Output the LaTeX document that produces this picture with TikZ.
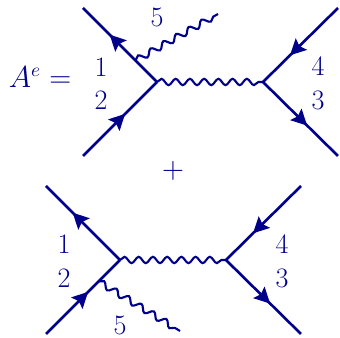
\documentclass[tikz,border=0pt]{standalone}
\usepackage{amsmath,amssymb}
\usetikzlibrary{arrows.meta, positioning, calc, decorations.markings, decorations.pathmorphing}
\definecolor{feynblue}{HTML}{00008B}
\tikzset{
	fermion/.style={line width=1.5pt, draw=feynblue, postaction={decorate}, decoration={markings, mark=at position #1 with {\arrow{Stealth[length=9pt, width=9pt, inset=1.5pt]}}}},
	photon/.style={line width=1.2pt, draw=feynblue, decorate, decoration={snake, segment length=#1, amplitude=1.8pt}},
	lab/.style={text=feynblue, font=\fontsize{16}{18}\selectfont, inner sep=0pt}
}
\begin{document}
\begin{tikzpicture}[node distance=1.48cm and 1.48cm]
	\useasboundingbox (0,0) rectangle (6.8,6.76);
	% Upper graph
	\coordinate (va) at (3.14,5.12);
	\coordinate [right=2.12cm of va] (vb);
	\coordinate [above left=of va] (a1);
	\coordinate [below left=of va] (a2);
	\coordinate [above right=1.48cm and 1.5cm of vb] (a4);
	\coordinate [below right=1.48cm and 1.5cm of vb] (a3);
	\coordinate (ae) at ($(va)!0.29!(a1)$);
	\coordinate (af) at (4.36,6.48);
	\draw [fermion=0.64] (va) -- (a1);
	\draw [fermion=0.57] (a2) -- (va);
	\draw [fermion=0.64] (a4) -- (vb);
	\draw [fermion=0.59] (vb) -- (a3);
	\draw [photon=8.1pt] (va) -- (vb);
	\draw [photon=8.3pt] (ae) -- (af);
	\node (lhs) [lab] at (0.8,5.22) {$A^e =$};
	\node (a1lab) [lab] at (2.02,5.42) {1};
	\node (a2lab) [lab] at (2.02,4.76) {2};
	\node (a4lab) [lab] at (6.36,5.44) {4};
	\node (a3lab) [lab] at (6.36,4.76) {3};
	\node (a5lab) [lab] at (3.14,6.42) {5};
	\node (plus) [lab] at (3.46,3.34) {$+$};
	% Lower graph
	\coordinate (vc) at (2.4,1.56);
	\coordinate [right=2.12cm of vc] (vd);
	\coordinate [above left=of vc] (b1);
	\coordinate [below left=of vc] (b2);
	\coordinate [above right=1.48cm and 1.5cm of vd] (b4);
	\coordinate [below right=1.48cm and 1.5cm of vd] (b3);
	\coordinate (be) at ($(vc)!0.29!(b2)$);
	\coordinate (bf) at (3.6,0.14);
	\draw [fermion=0.64] (vc) -- (b1);
	\draw [fermion=0.57] (b2) -- (vc);
	\draw [fermion=0.64] (b4) -- (vd);
	\draw [fermion=0.59] (vd) -- (b3);
	\draw [photon=8.1pt] (vc) -- (vd);
	\draw [photon=8.3pt] (be) -- (bf);
	\node (b1lab) [lab] at (1.28,1.88) {1};
	\node (b2lab) [lab] at (1.28,1.2) {2};
	\node (b4lab) [lab] at (5.64,1.88) {4};
	\node (b3lab) [lab] at (5.64,1.2) {3};
	\node (b5lab) [lab] at (2.4,0.25) {5};
\end{tikzpicture}
\end{document}
